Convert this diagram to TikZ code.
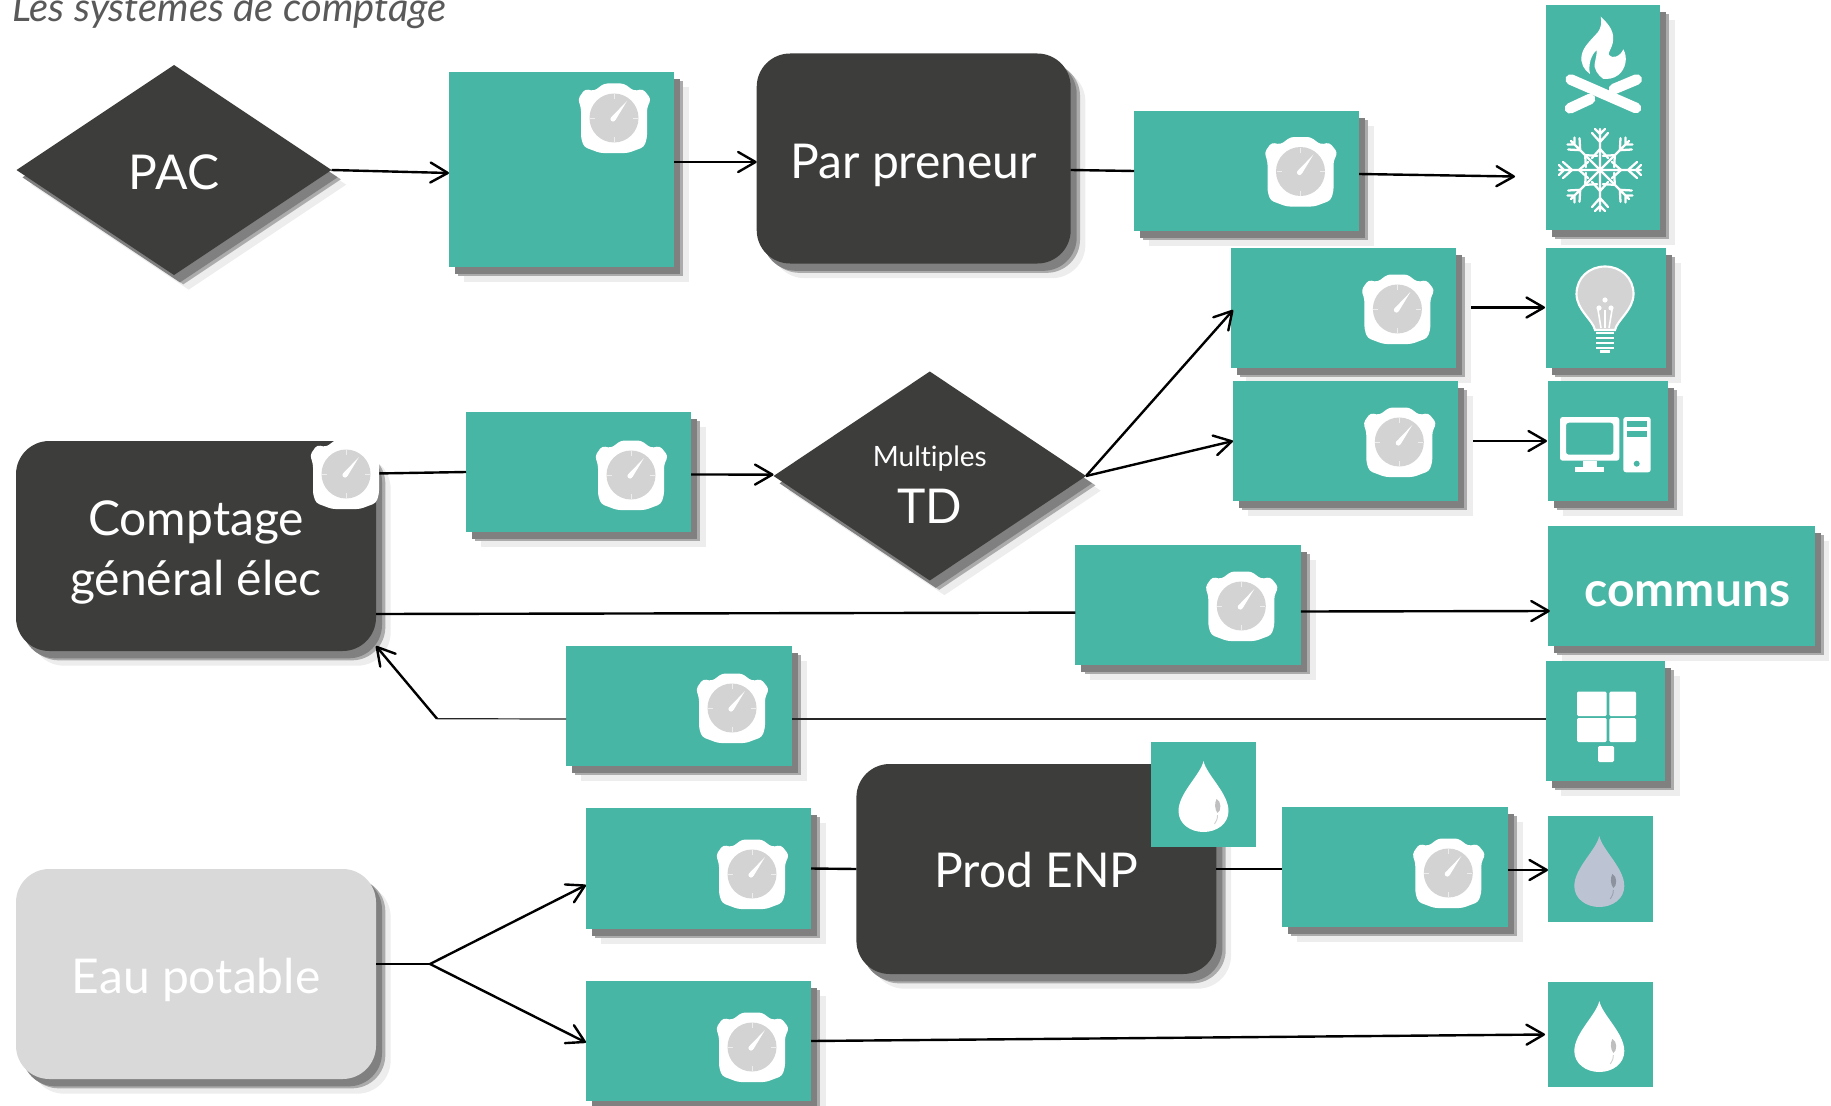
\documentclass[tikz,border=0pt]{standalone}
\usepackage{fontspec}
\setmainfont{Lato}[Ligatures=NoCommon]
\usetikzlibrary{shapes.geometric,shadows,arrows.meta,calc}
\definecolor{teal1}{HTML}{47B6A5}
\definecolor{dark1}{HTML}{3D3D3B}
\definecolor{pale1}{HTML}{D9D9D9}
\definecolor{gaugegray}{HTML}{D3D3D3}
\definecolor{dropblue}{HTML}{BCC4D3}
\newcommand{\lift}[2]{\raisebox{\dimexpr-#1pt*3/4\relax}[0pt][0pt]{#2}}
\tikzset{
  shd/.style={
    general shadow={shadow xshift=11pt,shadow yshift=-11pt,fill=black!7},
    general shadow={shadow xshift=7pt,shadow yshift=-7pt,fill=black!33},
    general shadow={shadow xshift=4.5pt,shadow yshift=-5.5pt,fill=black!50}},
  sized/.style n args={2}{minimum width=#1*0.75pt,minimum height=#2*0.75pt,inner sep=0pt,outer sep=0pt},
  tbox/.style={rectangle,fill=teal1,shd},
  plain/.style={rectangle,fill=teal1},
  rbox/.style={rectangle,rounded corners=25pt,fill=dark1,shd,text=white,align=center,
    font=\fontsize{36}{44.5}\selectfont},
  dia/.style={diamond,aspect=1.5,fill=dark1,shd,text=white,align=center,
    font=\fontsize{36}{44}\selectfont},
  ar/.style={draw=black,line width=1.8pt,-{Straight Barb[length=13pt,width=15pt,round]}},
  ln/.style={draw=black,line width=1.8pt},
  thinln/.style={draw=black!85,line width=0.9pt},
  flake/.style={draw=white,line width=1.7pt,line cap=round,line join=round},
  clockface/.pic={
    \fill[white,rounded corners=2.5pt] (-36,-19)--(-29,-29)--(-20,-27)--(-10,-34.5)--(10,-34.5)--(20,-27)--(29,-29)--(37,-19)--(33,-10)--(33,20)--(30,29)--(14,35)--(-14,35)--(-30,29)--(-33,20)--(-33,-10)--cycle;
    \fill[gaugegray] (0,0) circle[radius=24.5];
    \foreach \a in {0,90,180,270}{\draw[white!60!gaugegray,line width=.6pt,rotate=\a] (0,-24)--(0,-19);}
    \fill[white] (-2.5,-1)--(13,-17)--(1.5,2)--cycle;
    \fill[white] (-1,1) circle[radius=2.6];
  },
  droplet/.pic={
    \fill[#1] (0,0) .. controls (3,14) and (25,32) .. (25,50) .. controls (25,63) and (13,71) .. (0,71)
      .. controls (-13,71) and (-25,63) .. (-25,50) .. controls (-25,32) and (-3,14) .. (0,0) -- cycle;
    \fill[black!25!#1] (13,38) .. controls (18,40) and (18,50) .. (14,52) .. controls (11,48) and (11,42) .. (13,38) -- cycle;
    \draw[black!18!#1,line width=.7pt] (14,54) .. controls (14,58) and (13,60) .. (11,63);
  },
}
\begin{document}
\begin{tikzpicture}[x=0.75pt,y=-0.75pt]
\path[use as bounding box] (0,0) rectangle (1831,1106);
\clip (0,0) rectangle (1831,1106);

\node[anchor=base west,text=black!65,font=\fontsize{30}{33}\itshape\selectfont,inner sep=0pt] (title) at (12,22) {Les systèmes de comptage};

% main shapes
\node[dia,sized={315}{210}] (pac) at (174,170) {\lift{19}{PAC}};
\node[tbox,sized={225}{195}] (b1) at (561.5,169.5) {};
\node[rbox,sized={314}{210}] (par) at (913.7,158.5) {\lift{20}{Par preneur}};
\node[tbox,sized={225}{120}] (b2) at (1246.6,171) {};
\node[tbox,sized={114}{225}] (fire) at (1603,117.5) {};
\node[tbox,sized={225}{120}] (b3) at (1343.6,308) {};
\node[tbox,sized={120}{120}] (bulb) at (1606,308) {};
\node[tbox,sized={225}{120}] (b4) at (1345.5,441) {};
\node[tbox,sized={120}{120}] (pcb) at (1608,441) {};
\node[rbox,sized={360}{210}] (comptage) at (196,546) {\lift{19.5}{Comptage}\\\lift{19.5}{général élec}};
\node[tbox,sized={225}{120}] (b7) at (578.5,472) {};
\node[dia,sized={312.5}{209}] (td) at (929.8,476) {\lift{20}{\fontsize{21}{24}\selectfont Multiples}\\\lift{18}{TD}};
\node[tbox,sized={225.5}{120}] (b5) at (1188.2,605) {};
\node[tbox,sized={267}{120},text=white,font=\fontsize{36}{44}\bfseries\selectfont] (communs) at (1681.3,586) {\hspace{9pt}\lift{20}{communs}};
\node[tbox,sized={226}{120}] (b8) at (679,706) {};
\node[tbox,sized={119}{120}] (grid) at (1605.6,721) {};
\node[tbox,sized={225}{121}] (b9) at (698.5,868.5) {};
\node[rbox,sized={360}{210}] (prod) at (1036.4,869) {\lift{18.5}{Prod ENP}};
\node[plain,sized={105.5}{105}] (dropA) at (1203.5,794.5) {};
\node[tbox,sized={226}{120}] (b6) at (1394.9,867) {};
\node[plain,sized={105}{106}] (dropB) at (1600.5,869) {};
\node[tbox,sized={225}{120}] (b10) at (698.5,1041) {};
\node[plain,sized={105}{105}] (dropC) at (1600.5,1034.5) {};
\node[rbox,sized={360}{210},fill=pale1] (eau) at (196,974) {\lift{19}{Eau potable}};

\coordinate (ck0) at (346,474);
\coordinate (j1) at (437,718.7);
\coordinate (j2) at (430,964);

% connectors
\draw[ar] (pac.east) -- ($(b1.west)+(0,3.5)$);
\draw[ar] ($(b1.east)+(0,-7.5)$) -- ($(par.west)+(0,3.5)$);
\draw[ln] ($(par.east)+(0,11.5)$) -- (b2.west);
\draw[ar] ($(b2.east)+(0,3)$) -- ($(fire.west)+(-31,59)$);
\draw[ar] ($(b3.east)+(15,-0.5)$) -- ($(bulb.west)+(-1,-0.5)$);
\draw[ar] ($(b4.east)+(15,0)$) -- ($(pcb.west)+(-1,0)$);
\draw[ln] (ck0) -- (b7.west);
\draw[ar] ($(b7.east)+(0,2.5)$) -- ($(td.west)+(0,-1.4)$);
\draw[ar] (td.east) -- ($(b3.west)+(2,2)$);
\draw[ar] (td.east) -- (b4.west);
\draw[ln] ($(comptage.east)+(0,68)$) -- ($(b5.west)+(0,7.6)$);
\draw[ar] ($(b5.east)+(0,6.5)$) -- ($(communs.west)+(2,25)$);
\draw[thinln] ($(b8.east)+(0,13)$) -- ($(grid.west)+(0,-2)$);
\draw[thinln] ($(b8.west)+(0,13)$) -- (j1);
\draw[ar] (j1) -- ($(comptage.east)+(0,100)$);
\draw[ln] (b9.east) -- (prod.west);
\draw[ln] (prod.east) -- ($(b6.west)+(0,2)$);
\draw[ar] ($(b6.east)+(0,3)$) -- ($(dropB.west)+(0,1)$);
\draw[ln] ($(eau.east)+(0,-10)$) -- (j2);
\draw[ar] (j2) -- ($(b9.west)+(0,16.5)$);
\draw[ar] (j2) -- ($(b10.west)+(0,1.5)$);
\draw[ar] (b10.east) -- ($(dropC.west)+(-3,0)$);

% clocks
\pic at (614,118) {clockface};
\pic at (ck0) {clockface};
\pic at (1300.5,171.5) {clockface};
\pic at (1397.4,309) {clockface};
\pic at (1399.3,442) {clockface};
\pic at (631,475) {clockface};
\pic at (1241.3,606) {clockface};
\pic at (732,708) {clockface};
\pic at (752,874) {clockface};
\pic at (1448.3,873) {clockface};
\pic at (752,1047) {clockface};

% droplets
\pic at (1203.5,761) {droplet=white};
\pic at (1599.3,836) {droplet=dropblue};
\pic at (1599.3,1001) {droplet=white};

% fire and snow
\begin{scope}[shift={(1546,5)}]
\fill[white] (54.7,11.7) .. controls (64,20) and (69,28) .. (66.7,38) .. controls (65,45) and (62,47) .. (63,50)
  .. controls (66,54) and (74,52) .. (77.3,44.3) .. controls (82,52) and (80,64) .. (72.3,70)
  .. controls (67,74) and (62,74) .. (57.3,74) .. controls (52,70) and (47,64) .. (49,57)
  .. controls (50,52) and (51,48) .. (50.7,45) .. controls (45,50) and (42,60) .. (44,69)
  .. controls (38,65) and (34,58) .. (35.7,50) .. controls (37,42) and (45,35) .. (52,27)
  .. controls (55,23) and (56,17) .. (54.7,11.7) -- cycle;
\draw[white,line width=8pt,line cap=round] (24.7,74.5) -- (90,103);
\draw[white,line width=8pt,line cap=round] (90.7,74.5) -- (68,84);
\draw[white,line width=8pt,line cap=round] (24,103.3) -- (44,94);
\foreach \a in {0,45,...,315}{
  \begin{scope}[shift={(54,165)},rotate=\a]
    \draw[flake] (0,0)--(0,-41) (-8,-37)--(0,-28)--(8,-37) (-5,-41)--(0,-36)--(5,-41);
    \draw[flake] (0,-21)--(8,-12) (0,-21)--(-8,-12);
  \end{scope}}
\end{scope}

% bulb
\begin{scope}[shift={(1546,248)}]
\path[fill=gaugegray,draw=white,line width=1.6pt] (49,82) .. controls (47,72) and (30.5,62) .. (30.5,46)
  .. controls (30.5,30) and (43,18.5) .. (59,18.5) .. controls (75,18.5) and (87.5,30) .. (87.5,46)
  .. controls (87.5,62) and (71,72) .. (69,82) -- cycle;
\draw[white,line width=1.2pt] (59,62)--(59,80) (52,62)--(55,80) (66,62)--(63,80);
\fill[white] (59,52) circle[radius=2.6] (53,60) circle[radius=2.6] (65,60) circle[radius=2.6];
\foreach \y in {85,90,95,100}{\draw[white,line width=1.5pt] (50,\y)--(68,\y);}
\fill[white] (54,102) rectangle (64,105);
\end{scope}

% computer
\begin{scope}[shift={(1548,381)}]
\fill[white,rounded corners=2pt,even odd rule] (12,36) rectangle (71.3,79.7) (18,41.7) rectangle (65.3,73.7);
\fill[white] (35.3,79.7) rectangle (48.7,86);
\fill[white] (26.7,86) rectangle (56.3,91.3);
\fill[white,rounded corners=2pt] (75.3,36) rectangle (102.7,91.3);
\fill[teal1] (79.3,40) rectangle (98.7,46.3);
\fill[teal1] (79.3,50) rectangle (98.7,56);
\fill[teal1] (88.7,82.7) circle[radius=3];
\end{scope}

% panel
\begin{scope}[shift={(1546,661)}]
\fill[white,rounded corners=1pt] (31,30.6) rectangle (60.6,55);
\fill[white,rounded corners=1pt] (63.4,30.6) rectangle (90,55);
\fill[white,rounded corners=1pt] (31,57) rectangle (60.6,81);
\fill[white,rounded corners=1pt] (63.4,57) rectangle (90,81);
\fill[white,rounded corners=1pt] (52,85) rectangle (68,101);
\end{scope}
\end{tikzpicture}
\end{document}
